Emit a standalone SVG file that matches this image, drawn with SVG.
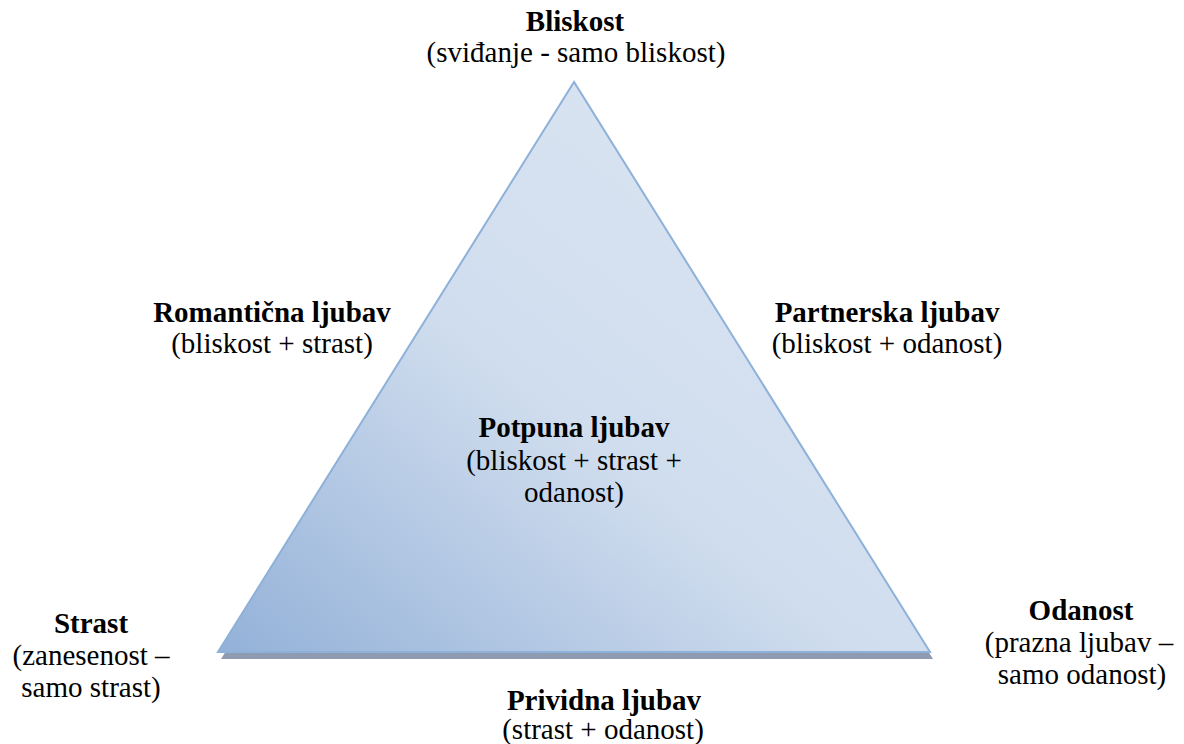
<svg xmlns="http://www.w3.org/2000/svg" width="1184" height="744" viewBox="0 0 1184 744">
  <defs>
    <linearGradient id="triGrad" x1="0" y1="1" x2="1" y2="0">
      <stop offset="0" stop-color="#93B1D8"/>
      <stop offset="0.45" stop-color="#D0DDEE"/>
      <stop offset="1" stop-color="#DEE8F3"/>
    </linearGradient>
    <style>
      text { font-family: "Liberation Serif", "Times New Roman", Times, serif; font-size: 29px; fill: #000; text-anchor: middle; }
      .b { font-weight: bold; }
    </style>
  </defs>
  <rect width="1184" height="744" fill="#FFFFFF"/>
  <g id="triangle">
    <polygon points="577,89 221,659 933,659" fill="#8E9BB0"/>
    <polygon points="574,82 218,652 930,652" fill="url(#triGrad)" stroke="#8EB1D9" stroke-width="2" stroke-linejoin="miter"/>
  </g>
  <g id="connectors"></g>
  <g id="node-bliskost">
    <text class="b" x="575" y="31">Bliskost</text>
    <text x="576" y="62">(sviđanje - samo bliskost)</text>
  </g>
  <g id="node-romanticna">
    <text class="b" x="272" y="322">Romantična ljubav</text>
    <text x="272" y="353">(bliskost + strast)</text>
  </g>
  <g id="node-partnerska">
    <text class="b" x="887" y="322">Partnerska ljubav</text>
    <text x="887" y="353">(bliskost + odanost)</text>
  </g>
  <g id="node-potpuna">
    <text class="b" x="574" y="437">Potpuna ljubav</text>
    <text x="574" y="470">(bliskost + strast +</text>
    <text x="574" y="502">odanost)</text>
  </g>
  <g id="node-strast">
    <text class="b" x="91" y="633">Strast</text>
    <text x="91" y="665">(zanesenost –</text>
    <text x="91" y="697">samo strast)</text>
  </g>
  <g id="node-odanost">
    <text class="b" x="1081" y="620">Odanost</text>
    <text x="1079" y="652">(prazna ljubav –</text>
    <text x="1082" y="684">samo odanost)</text>
  </g>
  <g id="node-prividna">
    <text class="b" x="604" y="710">Prividna ljubav</text>
    <text x="603" y="739">(strast + odanost)</text>
  </g>
</svg>
